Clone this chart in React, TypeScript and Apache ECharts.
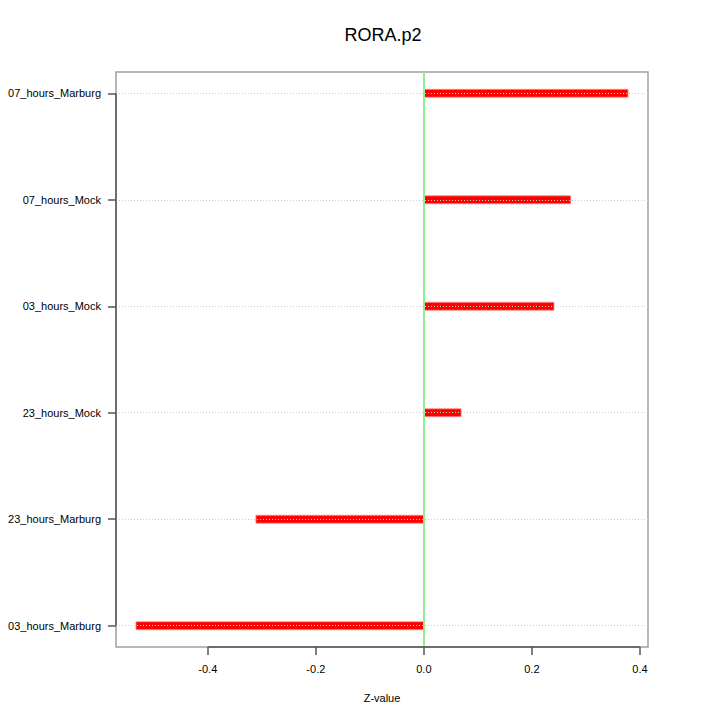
import React, { useEffect, useRef } from "react";
import * as echarts from "echarts";

const categories = [
  "03_hours_Marburg",
  "23_hours_Marburg",
  "23_hours_Mock",
  "03_hours_Mock",
  "07_hours_Mock",
  "07_hours_Marburg",
];
const zValues = [-0.533, -0.311, 0.069, 0.241, 0.272, 0.378];
const xTicks = [-0.4, -0.2, 0, 0.2, 0.4];
const yPositions = [1, 2, 3, 4, 5, 6];
const titleText = "RORA.p2";
const xAxisTitle = "Z-value";

const FONT = "Liberation Sans, Arial, Helvetica, sans-serif";

export default function App() {
  const ref = useRef<HTMLDivElement>(null);
  useEffect(() => {
    document.body.style.margin = "0";
    const chart = echarts.init(ref.current!, null, { renderer: "svg" });
    const gridLeft = 116, gridRight = 72, gridTop = 72, gridBottom = 73;
    chart.setOption({
      animation: false,
      backgroundColor: "#ffffff",
      textStyle: { fontFamily: FONT },
      grid: {
        left: gridLeft,
        right: gridRight,
        top: gridTop,
        bottom: gridBottom,
        show: true,
        borderColor: "#a0a0a0",
        borderWidth: 1.5,
        backgroundColor: "transparent",
      },
      graphic: [
        {
          type: "text",
          x: 383,
          y: 35,
          style: {
            text: titleText,
            font: `18px ${FONT}`,
            fill: "#000",
            align: "center",
            verticalAlign: "middle",
          },
        },
        {
          type: "text",
          x: 382,
          y: 698,
          style: {
            text: xAxisTitle,
            font: `11px ${FONT}`,
            fill: "#000",
            align: "center",
            verticalAlign: "middle",
          },
        },
      ],
      xAxis: {
        type: "value",
        min: -0.57,
        max: 0.415,
        axisLine: { show: false, onZero: false },
        splitLine: { show: false },
        axisTick: {
          show: true,
          length: 8,
          customValues: xTicks,
          lineStyle: { color: "#555", width: 1.5 },
        },
        axisLabel: {
          customValues: xTicks,
          margin: 16,
          fontSize: 11,
          color: "#000",
          fontFamily: FONT,
          formatter: (v: number) => v.toFixed(1),
        },
      },
      yAxis: {
        type: "value",
        min: 0.8,
        max: 6.2,
        axisLine: { show: false, onZero: false },
        splitLine: { show: false },
        axisTick: {
          show: true,
          length: 8,
          customValues: yPositions,
          lineStyle: { color: "#555", width: 1.5 },
        },
        axisLabel: {
          customValues: yPositions,
          margin: 15,
          fontSize: 11,
          color: "#000",
          fontFamily: FONT,
          formatter: (v: number) => categories[Math.round(v) - 1] ?? "",
        },
      },
      series: [
        {
          type: "line",
          data: [],
          z: 1,
          silent: true,
          markLine: {
            silent: true,
            symbol: "none",
            label: { show: false },
            animation: false,
            lineStyle: { color: "#90f090", width: 2, type: "solid" },
            data: [{ xAxis: 0 }],
          },
        },
        {
          type: "custom",
          z: 2,
          silent: true,
          data: zValues.map((v, i) => [v, yPositions[i]]),
          renderItem: (params: any, api: any) => {
            const v = api.value(0);
            const y = api.value(1);
            const p0 = api.coord([0, y]);
            const p1 = api.coord([v, y]);
            return {
              type: "rect",
              shape: {
                x: Math.min(p0[0], p1[0]),
                y: p0[1] - 4,
                width: Math.abs(p1[0] - p0[0]),
                height: 8,
              },
              style: { fill: "#ff0000", stroke: "#ff9090", lineWidth: 0.8 },
            };
          },
        },
        {
          type: "line",
          data: [],
          z: 3,
          silent: true,
          markLine: {
            silent: true,
            symbol: "none",
            label: { show: false },
            animation: false,
            lineStyle: { color: "#cccccc", width: 1, type: [1, 2] },
            data: yPositions.map((p) => ({ yAxis: p })),
          },
        },
        {
          type: "line",
          data: [],
          z: 4,
          silent: true,
          markLine: {
            silent: true,
            symbol: "none",
            label: { show: false },
            animation: false,
            lineStyle: { color: "#555", width: 1.5, type: "solid" },
            data: [
              [
                { coord: [xTicks[0], 0.8] },
                { coord: [xTicks[xTicks.length - 1], 0.8] },
              ],
              [
                { coord: [-0.57, yPositions[0]] },
                { coord: [-0.57, yPositions[yPositions.length - 1]] },
              ],
            ],
          },
        },
      ],
    });
    return () => chart.dispose();
  }, []);
  return <div ref={ref} style={{ width: 720, height: 720 }} />;
}
